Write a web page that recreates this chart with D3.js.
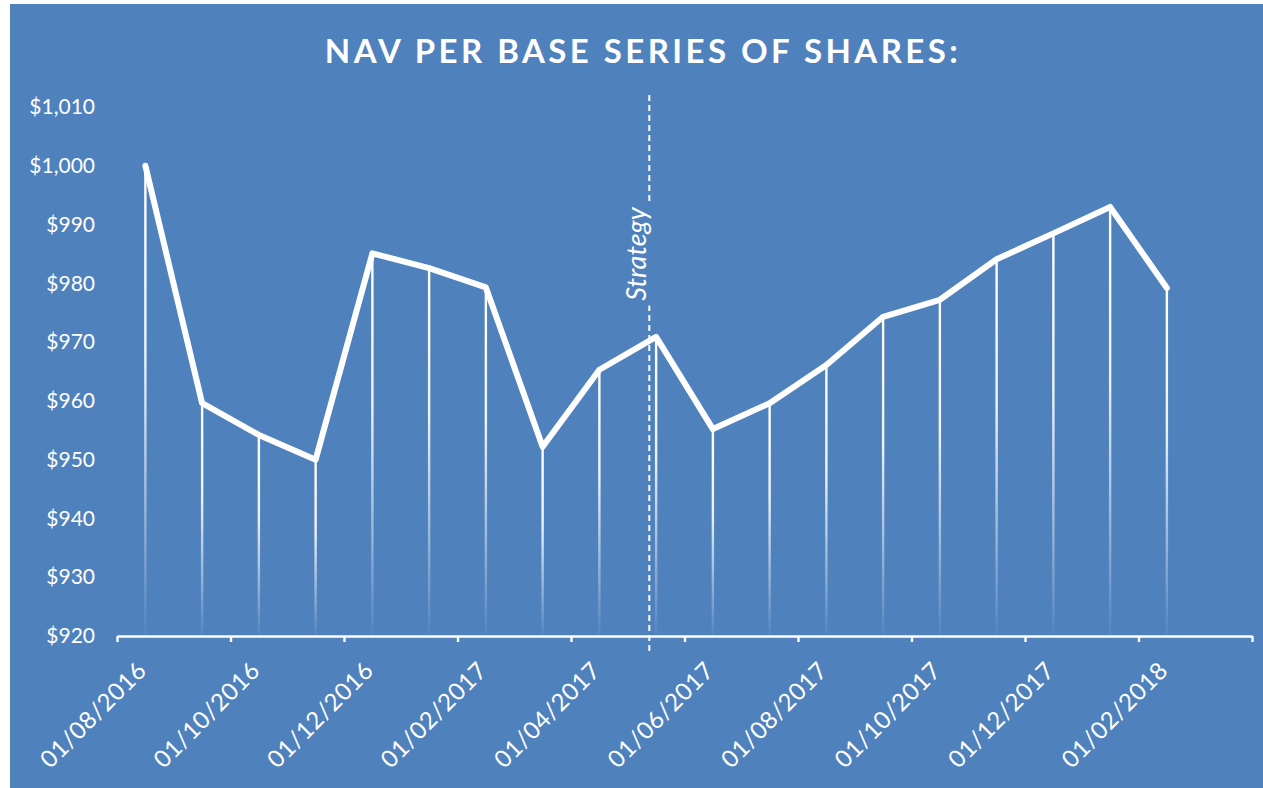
<!DOCTYPE html>
<html>
<head>
<meta charset="utf-8">
<script src="https://cdn.jsdelivr.net/npm/d3@7"></script>
<style>
  body { margin: 0; background: #fff; }
  svg  { display: block; }
</style>
</head>
<body>
<svg id="main_graph" width="1263" height="788"></svg>

<script>

// monthly NAV readings, first day of each month
var months = ["01/08/2016", "01/09/2016", "01/10/2016", "01/11/2016", "01/12/2016",
              "01/01/2017", "01/02/2017", "01/03/2017", "01/04/2017", "01/05/2017",
              "01/06/2017", "01/07/2017", "01/08/2017", "01/09/2017", "01/10/2017",
              "01/11/2017", "01/12/2017", "01/01/2018", "01/02/2018"];
var nav    = [1000, 959.6, 954.2, 950.0, 985.1,
              982.6, 979.3, 952.2, 965.3, 970.9,
              955.2, 959.6, 966.1, 974.3, 977.2,
              984.1, 988.5, 993.0, 979.2];
var yTicks = [920, 930, 940, 950, 960, 970, 980, 990, 1000, 1010];
var title  = "NAV PER BASE SERIES OF SHARES:";
var strategyLabel = "Strategy";
var strategyAt    = 8.88;   // month index where the strategy changed (just before May 2017)

var bg   = "#4F81BD";
var font = "Lato, 'Open Sans', sans-serif";

var svg = d3.select("#main_graph");

svg.append("rect")
    .attr("x", 10).attr("y", 4)
    .attr("width", 1253).attr("height", 784)
    .attr("fill", bg);

var margin = {left: 117, right: 1252, top: 107, bottom: 636};

// one empty month slot after the last reading, like the source chart
var x = d3.scaleLinear().domain([-0.5, months.length + 0.5]).range([margin.left, margin.right]);
var y = d3.scaleLinear().domain([920, 1010]).range([margin.bottom, margin.top]);

var data = months.map(function(m, i) { return {month: m, i: i, value: nav[i]}; });

// fading gradient for the drop lines
var defs = svg.append("defs");
var grad = defs.append("linearGradient")
    .attr("id", "dropFade")
    .attr("x1", 0).attr("y1", 0).attr("x2", 0).attr("y2", 1);
grad.append("stop").attr("offset", "0%").attr("stop-color", "#fff").attr("stop-opacity", 1);
grad.append("stop").attr("offset", "40%").attr("stop-color", "#fff").attr("stop-opacity", 0.9);
grad.append("stop").attr("offset", "100%").attr("stop-color", "#fff").attr("stop-opacity", 0.03);

svg.append("g")
  .selectAll("rect")
    .data(data)
    .enter().append("rect")
    .attr("x", function(d) { return x(d.i) - 1.2; })
    .attr("y", function(d) { return y(d.value); })
    .attr("width", 2.4)
    .attr("height", function(d) { return y(920) - y(d.value); })
    .attr("fill", "url(#dropFade)");

// strategy marker
var sx = x(strategyAt);
svg.append("line")
    .attr("x1", sx).attr("x2", sx)
    .attr("y1", 95).attr("y2", 651)
    .attr("stroke", "#fff")
    .attr("stroke-width", 2)
    .attr("stroke-dasharray", "6,4");

var sg = svg.append("g")
    .attr("transform", "translate(" + (sx - 3) + ",254) rotate(-90)");
var sbox = sg.append("rect").attr("fill", bg);
var stext = sg.append("text")
    .attr("text-anchor", "middle")
    .attr("fill", "#fff")
    .attr("font-family", font)
    .attr("font-style", "italic")
    .attr("font-size", 27)
    .text(strategyLabel);
var bb = stext.node().getBBox();
sbox.attr("x", bb.x - 5).attr("y", bb.y)
    .attr("width", bb.width + 10).attr("height", bb.height);

// the NAV line
var line = d3.line()
    .x(function(d) { return x(d.i); })
    .y(function(d) { return y(d.value); });

svg.append("path")
    .datum(data)
    .attr("d", line)
    .attr("fill", "none")
    .attr("stroke", "#fff")
    .attr("stroke-width", 6)
    .attr("stroke-linejoin", "round")
    .attr("stroke-linecap", "round");

// x axis: ticks every two months, labels on every other month
svg.append("g")
    .attr("transform", "translate(0," + margin.bottom + ")")
    .call(d3.axisBottom(x)
        .tickValues(d3.range(-0.5, months.length + 1, 2))
        .tickSize(6).tickSizeOuter(0)
        .tickFormat(""))
    .call(function(g) {
      g.select(".domain").attr("stroke", "#fff").attr("stroke-width", 2.6);
      g.selectAll(".tick line").attr("stroke", "#fff").attr("stroke-width", 2.4);
    });

svg.append("g")
    .attr("transform", "translate(0," + margin.bottom + ")")
    .call(d3.axisBottom(x)
        .tickValues(d3.range(0, months.length, 2))
        .tickSize(0)
        .tickFormat(function(i) { return months[i]; }))
    .call(function(g) {
      g.select(".domain").remove();
      g.selectAll("text")
        .attr("fill", "#fff")
        .attr("font-family", font)
        .attr("font-size", 24)
        .attr("letter-spacing", "0.5px")
        .attr("text-anchor", "end")
        .attr("dy", null)
        .attr("y", 0)
        .attr("transform", "translate(2,36) rotate(-45)");
    });

// y axis: labels only
svg.append("g")
    .attr("transform", "translate(" + margin.left + ",0)")
    .call(d3.axisLeft(y)
        .tickValues(yTicks)
        .tickSize(0).tickPadding(22)
        .tickFormat(d3.format("$,")))
    .call(function(g) {
      g.select(".domain").remove();
      g.selectAll("text")
        .attr("fill", "#fff")
        .attr("font-family", font)
        .attr("font-size", 21);
    });

// title, stretched to the width it has in the source
var t = svg.append("text")
    .attr("x", 643).attr("y", 63)
    .attr("text-anchor", "middle")
    .attr("fill", "#fff")
    .attr("font-family", font)
    .attr("font-weight", "bold")
    .attr("font-size", 33)
    .text(title);
var tlen = t.node().getComputedTextLength();
t.attr("letter-spacing", ((633 - tlen) / (title.length - 1)) + "px");

</script>
</body>
</html>
